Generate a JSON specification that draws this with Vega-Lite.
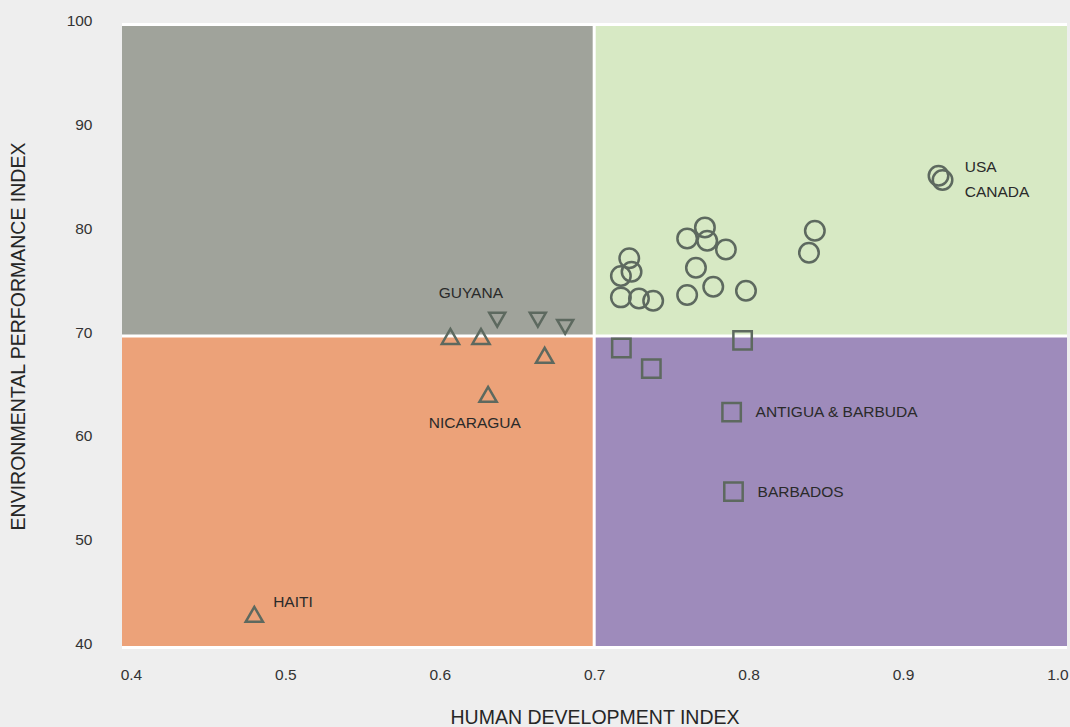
{
  "$schema": "https://vega.github.io/schema/vega-lite/v6.json",
  "width": 945,
  "height": 623,
  "autosize": "none",
  "padding": {"left": 122, "top": 24.5, "right": 3, "bottom": 79.5},
  "background": "#eeeeee",
  "config": {
    "view": {"stroke": null},
    "font": "Liberation Sans",
    "axis": {
      "grid": false, "domain": false, "ticks": false, "tickSize": 0,
      "labelFont": "Liberation Sans", "labelFontSize": 15.5, "labelColor": "#333333",
      "titleFont": "Liberation Sans", "titleFontSize": 19.5, "titleFontWeight": "normal", "titleColor": "#262626"
    }
  },
  "datasets": {
    "quadrants": [
      {"q": "top-left", "x1": 0.3942, "x2": 0.7, "y1": 70, "y2": 100},
      {"q": "top-right", "x1": 0.7, "x2": 1.0062, "y1": 70, "y2": 100},
      {"q": "bottom-left", "x1": 0.3942, "x2": 0.7, "y1": 40, "y2": 70},
      {"q": "bottom-right", "x1": 0.7, "x2": 1.0062, "y1": 40, "y2": 70}
    ],
    "points": [
      {"group": "high HDI high EPI", "hdi": 0.7717, "epi": 80.46},
      {"group": "high HDI high EPI", "hdi": 0.7602, "epi": 79.4},
      {"group": "high HDI high EPI", "hdi": 0.7732, "epi": 79.17},
      {"group": "high HDI high EPI", "hdi": 0.7853, "epi": 78.34},
      {"group": "high HDI high EPI", "hdi": 0.7227, "epi": 77.48},
      {"group": "high HDI high EPI", "hdi": 0.7242, "epi": 76.18},
      {"group": "high HDI high EPI", "hdi": 0.7173, "epi": 75.77},
      {"group": "high HDI high EPI", "hdi": 0.7659, "epi": 76.57},
      {"group": "high HDI high EPI", "hdi": 0.7173, "epi": 73.72},
      {"group": "high HDI high EPI", "hdi": 0.729, "epi": 73.62},
      {"group": "high HDI high EPI", "hdi": 0.7382, "epi": 73.39},
      {"group": "high HDI high EPI", "hdi": 0.7602, "epi": 73.94},
      {"group": "high HDI high EPI", "hdi": 0.7771, "epi": 74.74},
      {"group": "high HDI high EPI", "hdi": 0.7983, "epi": 74.35},
      {"group": "high HDI high EPI", "hdi": 0.8429, "epi": 80.13},
      {"group": "high HDI high EPI", "hdi": 0.8391, "epi": 78.02},
      {"group": "high HDI high EPI", "hdi": 0.923, "epi": 85.43},
      {"group": "high HDI high EPI", "hdi": 0.9256, "epi": 85.02},
      {"group": "high HDI low EPI", "hdi": 0.7176, "epi": 68.85},
      {"group": "high HDI low EPI", "hdi": 0.737, "epi": 66.86},
      {"group": "high HDI low EPI", "hdi": 0.7961, "epi": 69.58},
      {"group": "high HDI low EPI", "hdi": 0.789, "epi": 62.67},
      {"group": "high HDI low EPI", "hdi": 0.7902, "epi": 55.01},
      {"group": "low HDI low EPI", "hdi": 0.6069, "epi": 69.96},
      {"group": "low HDI low EPI", "hdi": 0.6267, "epi": 69.96},
      {"group": "low HDI low EPI", "hdi": 0.6679, "epi": 68.14},
      {"group": "low HDI low EPI", "hdi": 0.6313, "epi": 64.38},
      {"group": "low HDI low EPI", "hdi": 0.4799, "epi": 43.19},
      {"group": "low HDI high EPI", "hdi": 0.6372, "epi": 71.56},
      {"group": "low HDI high EPI", "hdi": 0.6635, "epi": 71.56},
      {"group": "low HDI high EPI", "hdi": 0.6812, "epi": 70.88}
    ],
    "labelsCenter": [
      {"label": "GUYANA", "hdi": 0.6201, "epi": 74.1},
      {"label": "NICARAGUA", "hdi": 0.6227, "epi": 61.58}
    ],
    "labelsLeft": [
      {"label": "HAITI", "hdi": 0.4921, "epi": 44.4},
      {"label": "ANTIGUA & BARBUDA", "hdi": 0.8045, "epi": 62.64},
      {"label": "BARBADOS", "hdi": 0.8058, "epi": 55.0},
      {"label": "USA", "hdi": 0.94, "epi": 86.3},
      {"label": "CANADA", "hdi": 0.94, "epi": 83.9}
    ]
  },
  "layer": [
    {
      "data": {"name": "quadrants"},
      "mark": {"type": "rect"},
      "encoding": {
        "x": {"field": "x1", "type": "quantitative",
          "scale": {"domain": [0.3942, 1.0062], "nice": false, "zero": false},
          "axis": {"values": [0.4, 0.5, 0.6, 0.7, 0.8, 0.9, 1.0], "format": ".1f", "labelPadding": 19.5, "title": "HUMAN DEVELOPMENT INDEX", "titlePadding": 26}},
        "x2": {"field": "x2"},
        "y": {"field": "y1", "type": "quantitative",
          "scale": {"domain": [40, 100], "nice": false, "zero": false},
          "axis": {"values": [40, 50, 60, 70, 80, 90, 100], "labelPadding": 30, "labelOffset": -4, "title": "ENVIRONMENTAL PERFORMANCE INDEX", "titlePadding": 38}},
        "y2": {"field": "y2"},
        "color": {"field": "q", "type": "nominal", "legend": null,
          "scale": {"domain": ["top-left", "top-right", "bottom-left", "bottom-right"],
                    "range": ["#a0a39b", "#d7e9c4", "#eca279", "#9e8bbb"]}}
      }
    },
    {
      "data": {"values": [{"y": 40}, {"y": 70}, {"y": 100}]},
      "mark": {"type": "rule", "color": "#ffffff", "strokeWidth": 3},
      "encoding": {"y": {"field": "y", "type": "quantitative"}}
    },
    {
      "data": {"values": [{"x": 0.7}]},
      "mark": {"type": "rule", "color": "#ffffff", "strokeWidth": 3},
      "encoding": {"x": {"field": "x", "type": "quantitative"}}
    },
    {
      "data": {"name": "points"},
      "mark": {"type": "point", "filled": false, "stroke": "#5d695f", "strokeWidth": 2.5, "opacity": 1},
      "encoding": {
        "x": {"field": "hdi", "type": "quantitative"},
        "y": {"field": "epi", "type": "quantitative"},
        "shape": {"field": "group", "type": "nominal", "legend": null,
          "scale": {"domain": ["high HDI high EPI", "high HDI low EPI", "low HDI low EPI", "low HDI high EPI"],
                    "range": ["circle", "square", "triangle-up", "triangle-down"]}},
        "size": {"field": "group", "type": "nominal", "legend": null,
          "scale": {"domain": ["high HDI high EPI", "high HDI low EPI", "low HDI low EPI", "low HDI high EPI"],
                    "range": [380, 256, 560, 560]}}
      }
    },
    {
      "data": {"name": "labelsCenter"},
      "mark": {"type": "text", "align": "center", "baseline": "middle", "fontSize": 15.5, "color": "#2a2a2a", "font": "Liberation Sans"},
      "encoding": {
        "x": {"field": "hdi", "type": "quantitative"},
        "y": {"field": "epi", "type": "quantitative"},
        "text": {"field": "label"}
      }
    },
    {
      "data": {"name": "labelsLeft"},
      "mark": {"type": "text", "align": "left", "baseline": "middle", "fontSize": 15.5, "color": "#2a2a2a", "font": "Liberation Sans"},
      "encoding": {
        "x": {"field": "hdi", "type": "quantitative"},
        "y": {"field": "epi", "type": "quantitative"},
        "text": {"field": "label"}
      }
    }
  ]
}
